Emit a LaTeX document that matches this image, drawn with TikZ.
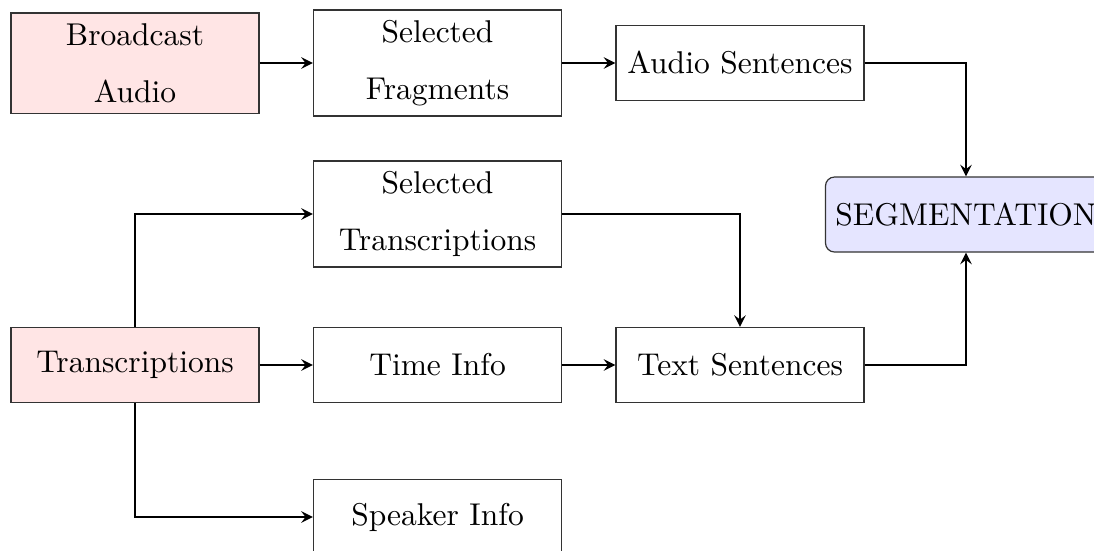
\documentclass[tikz,border=0pt]{standalone}
\usetikzlibrary{arrows}
\begin{document}
\begin{tikzpicture}[x=0.33333pt,y=-0.33333pt,
  every node/.style={font=\fontsize{10.5}{12.6}\selectfont},
  box/.style={draw=black!80, line width=0.4pt, minimum width=82.7pt, minimum height=25pt, align=center, inner sep=3.33pt},
  tallbox/.style={box, minimum height=35.3pt},
  src/.style={fill=red!10},
  segbox/.style={draw=black!80, line width=0.4pt, fill=blue!10, rounded corners=3pt, minimum height=25pt, inner sep=3.33pt},
  arr/.style={-stealth, line width=0.7pt}]
\useasboundingbox (0,0) rectangle (1094,550);
\clip (0,0) rectangle (1094,550);
\node[tallbox, src, minimum height=33.4pt] (ba) at (135,63) {Broadcast\\[6.4pt]Audio};
\node[tallbox] (sf) at (437.5,63) {Selected\\[6.4pt]Fragments};
\node[box] (as) at (740,63) {Audio Sentences};
\node[segbox] (seg) at (966,214.5) {SEGMENTATION};
\node[tallbox] (st) at (437.5,214) {Selected\\[6.4pt]Transcriptions};
\node[box, src] (tr) at (135,365) {Transcriptions};
\node[box] (ti) at (437.5,365) {Time Info};
\node[box] (ts) at (740,365) {Text Sentences};
\node[box] (sp) at (437.5,517) {Speaker Info};
\draw[arr] (ba.east) -- (sf.west);
\draw[arr] (sf.east) -- (as.west);
\draw[arr] (as.east) -| (seg.north);
\draw[arr] (tr.north) |- (st.west);
\draw[arr] (tr.east) -- (ti.west);
\draw[arr] (tr.south) |- (sp.west);
\draw[arr] (ti.east) -- (ts.west);
\draw[arr] (st.east) -| (ts.north);
\draw[arr] (ts.east) -| (seg.south);
\end{tikzpicture}
\end{document}
